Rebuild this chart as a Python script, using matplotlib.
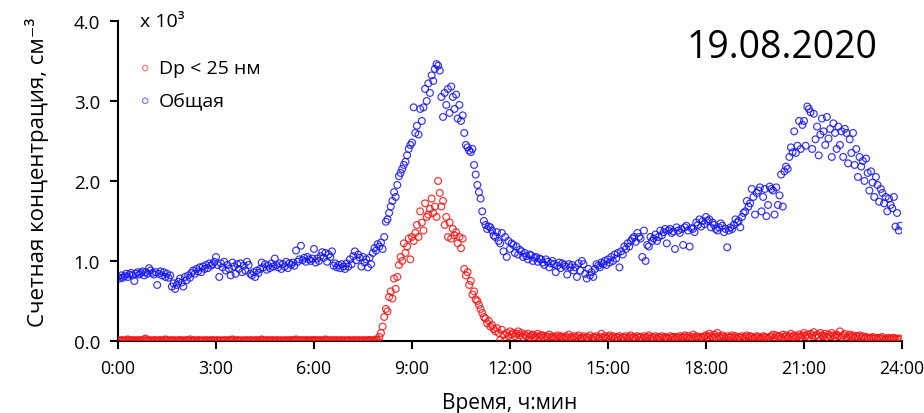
import matplotlib
matplotlib.use("Agg")
import matplotlib.pyplot as plt
import numpy as np

plt.rcParams['font.family'] = ['Open Sans', 'DejaVu Sans']

# 3-minute samples, one row per hour (0:00 ... 23:57), values in 10^3 cm^-3
total = [
    0.80, 0.78, 0.82, 0.79, 0.81, 0.84, 0.80, 0.83, 0.85, 0.82, 0.75, 0.84, 0.86, 0.83, 0.85, 0.87, 0.82, 0.86, 0.84, 0.91,
    0.88, 0.85, 0.83, 0.86, 0.70, 0.84, 0.87, 0.82, 0.86, 0.80, 0.84, 0.79, 0.82, 0.68, 0.72, 0.65, 0.70, 0.74, 0.78, 0.73,
    0.68, 0.80, 0.76, 0.82, 0.79, 0.85, 0.88, 0.84, 0.90, 0.87, 0.92, 0.86, 0.93, 0.90, 0.95, 0.91, 0.97, 0.94, 0.96, 0.99,
    1.05, 0.95, 0.80, 0.97, 0.92, 0.99, 0.88, 0.95, 0.90, 0.82, 0.98, 0.93, 0.84, 0.96, 0.90, 0.97, 0.86, 0.94, 0.88, 0.99,
    0.95, 0.84, 0.82, 0.86, 0.80, 0.88, 0.85, 0.90, 0.98, 0.92, 0.96, 0.89, 0.94, 0.91, 0.97, 0.93, 1.03, 0.95, 0.92, 0.97,
    0.90, 0.96, 0.93, 0.99, 0.91, 0.97, 0.95, 0.98, 0.94, 1.13, 0.99, 1.02, 1.19, 1.01, 1.04, 0.99, 1.05, 1.02, 1.00, 1.03,
    1.15, 0.98, 1.03, 1.00, 1.06, 1.11, 1.04, 1.10, 0.99, 1.08, 1.05, 1.12, 0.94, 0.97, 0.92, 0.95, 0.91, 0.96, 0.93, 0.90,
    0.97, 0.93, 1.02, 0.96, 1.06, 1.12, 1.01, 1.08, 1.04, 0.93, 1.05, 0.98, 1.02, 0.92, 1.04, 0.96, 1.10, 1.16, 1.13, 1.21,
    1.18, 1.23, 1.15, 1.30, 1.49, 1.52, 1.60, 1.68, 1.75, 1.86, 1.80, 1.95, 2.06, 2.10, 2.15, 2.20, 2.24, 2.32, 2.40, 2.45,
    2.48, 2.92, 2.60, 2.69, 2.58, 2.90, 2.75, 2.92, 3.15, 3.00, 3.22, 3.10, 3.32, 3.25, 3.40, 3.46, 3.44, 3.38, 3.05, 2.80,
    3.10, 2.95, 3.15, 2.85, 3.18, 3.05, 2.90, 3.08, 2.78, 2.95, 2.75, 2.82, 2.60, 2.45, 2.42, 2.38, 2.36, 2.40, 2.20, 2.08,
    1.95, 1.86, 1.78, 1.62, 1.50, 1.45, 1.40, 1.43, 1.42, 1.38, 1.32, 1.30, 1.36, 1.25, 1.22, 1.35, 1.12, 1.30, 1.05, 1.25,
    1.15, 1.22, 1.20, 1.10, 1.18, 1.08, 1.14, 1.12, 1.05, 1.10, 1.06, 1.02, 1.08, 1.07, 1.00, 1.04, 1.05, 0.99, 1.03, 1.02,
    0.98, 0.95, 1.02, 0.99, 0.92, 0.97, 1.00, 0.96, 0.86, 0.94, 0.98, 0.91, 0.97, 0.95, 0.93, 0.83, 0.96, 0.92, 0.95, 0.88,
    0.92, 0.80, 0.97, 0.88, 1.00, 0.96, 0.84, 0.78, 0.90, 0.82, 0.86, 0.80, 0.90, 0.96, 0.94, 0.92, 0.98, 0.96, 1.00, 0.95,
    1.02, 0.98, 1.05, 1.00, 1.08, 1.03, 1.10, 0.92, 1.12, 1.08, 1.18, 1.15, 1.22, 1.18, 1.25, 1.28, 1.30, 1.24, 1.35, 1.30,
    1.28, 1.05, 1.38, 1.00, 1.20, 1.18, 1.30, 1.25, 1.28, 1.33, 1.25, 1.30, 1.38, 1.32, 1.36, 1.40, 1.22, 1.38, 1.40, 1.35,
    1.37, 1.15, 1.42, 1.38, 1.35, 1.40, 1.20, 1.42, 1.44, 1.38, 1.18, 1.41, 1.40, 1.36, 1.48, 1.45, 1.52, 1.43, 1.50, 1.46,
    1.55, 1.50, 1.52, 1.42, 1.48, 1.45, 1.40, 1.38, 1.42, 1.47, 1.44, 1.36, 1.40, 1.17, 1.38, 1.42, 1.40, 1.45, 1.52, 1.48,
    1.50, 1.42, 1.55, 1.60, 1.62, 1.75, 1.68, 1.72, 1.90, 1.80, 1.58, 1.85, 1.88, 1.92, 1.62, 1.80, 1.90, 1.56, 1.70, 1.93,
    1.90, 1.88, 1.58, 1.92, 1.70, 1.82, 2.08, 1.68, 2.12, 2.18, 2.15, 2.30, 2.42, 2.36, 2.62, 2.35, 2.44, 2.75, 2.40, 2.70,
    2.75, 2.44, 2.93, 2.90, 2.86, 2.40, 2.84, 2.52, 2.68, 2.32, 2.58, 2.78, 2.62, 2.45, 2.80, 2.53, 2.65, 2.30, 2.72, 2.60,
    2.40, 2.68, 2.45, 2.62, 2.30, 2.65, 2.60, 2.22, 2.52, 2.35, 2.60, 2.20, 2.40, 2.05, 2.30, 2.18, 2.25, 2.00, 2.28, 2.10,
    1.88, 2.12, 1.98, 1.80, 2.05, 1.95, 1.74, 1.90, 1.85, 1.72, 1.80, 1.62, 1.78, 1.70, 1.66, 1.80, 1.43, 1.60, 1.38, 1.44,
]

small = [
    0.01, 0.00, 0.01, 0.01, 0.00, 0.01, 0.02, 0.01, 0.00, 0.01, 0.01, 0.00, 0.01, 0.01, 0.00, 0.01, 0.02, 0.03, 0.01, 0.00,
    0.01, 0.00, 0.01, 0.01, 0.00, 0.01, 0.01, 0.00, 0.01, 0.02, 0.01, 0.00, 0.01, 0.01, 0.00, 0.01, 0.00, 0.01, 0.01, 0.00,
    0.01, 0.00, 0.01, 0.01, 0.02, 0.00, 0.01, 0.01, 0.00, 0.01, 0.01, 0.00, 0.01, 0.00, 0.01, 0.01, 0.00, 0.01, 0.01, 0.00,
    0.01, 0.01, 0.00, 0.01, 0.00, 0.01, 0.01, 0.00, 0.01, 0.01, 0.02, 0.01, 0.00, 0.01, 0.01, 0.00, 0.01, 0.00, 0.01, 0.01,
    0.00, 0.01, 0.01, 0.00, 0.01, 0.01, 0.00, 0.01, 0.02, 0.01, 0.00, 0.01, 0.01, 0.00, 0.01, 0.01, 0.00, 0.01, 0.01, 0.00,
    0.01, 0.00, 0.01, 0.01, 0.00, 0.01, 0.01, 0.00, 0.01, 0.02, 0.01, 0.00, 0.01, 0.01, 0.00, 0.01, 0.01, 0.00, 0.01, 0.01,
    0.01, 0.01, 0.00, 0.01, 0.01, 0.00, 0.01, 0.02, 0.01, 0.00, 0.01, 0.01, 0.00, 0.01, 0.01, 0.00, 0.01, 0.01, 0.00, 0.01,
    0.00, 0.01, 0.01, 0.00, 0.01, 0.01, 0.00, 0.01, 0.01, 0.00, 0.01, 0.01, 0.00, 0.01, 0.01, 0.01, 0.00, 0.01, 0.02, 0.01,
    0.05, 0.10, 0.18, 0.30, 0.40, 0.37, 0.55, 0.62, 0.53, 0.78, 0.65, 0.80, 0.95, 1.05, 1.00, 1.22, 1.10, 1.18, 1.28, 1.02,
    1.30, 1.25, 1.35, 1.45, 1.30, 1.62, 1.48, 1.38, 1.72, 1.55, 1.58, 1.65, 1.78, 1.60, 1.68, 1.55, 2.00, 1.85, 1.68, 1.75,
    1.45, 1.55, 1.30, 1.48, 1.28, 1.40, 1.32, 1.36, 1.22, 1.30, 1.16, 1.28, 0.90, 0.82, 0.86, 0.70, 0.75, 0.58, 0.62, 0.52,
    0.50, 0.45, 0.40, 0.35, 0.30, 0.28, 0.22, 0.25, 0.18, 0.20, 0.15, 0.12, 0.16, 0.10, 0.01, 0.14, 0.08, 0.01, 0.10, 0.06,
    0.12, 0.08, 0.10, 0.06, 0.09, 0.12, 0.07, 0.10, 0.05, 0.08, 0.06, 0.09, 0.05, 0.07, 0.08, 0.04, 0.06, 0.09, 0.05, 0.07,
    0.07, 0.04, 0.06, 0.05, 0.08, 0.04, 0.06, 0.03, 0.05, 0.07, 0.04, 0.06, 0.05, 0.03, 0.06, 0.04, 0.08, 0.05, 0.03, 0.06,
    0.04, 0.05, 0.07, 0.03, 0.04, 0.06, 0.03, 0.05, 0.04, 0.07, 0.03, 0.05, 0.04, 0.06, 0.03, 0.05, 0.09, 0.04, 0.06, 0.03,
    0.05, 0.07, 0.04, 0.06, 0.03, 0.05, 0.04, 0.06, 0.03, 0.05, 0.04, 0.06, 0.03, 0.05, 0.07, 0.04, 0.05, 0.03, 0.06, 0.04,
    0.05, 0.03, 0.06, 0.04, 0.05, 0.07, 0.03, 0.05, 0.04, 0.06, 0.03, 0.05, 0.04, 0.06, 0.03, 0.05, 0.04, 0.03, 0.06, 0.04,
    0.05, 0.03, 0.05, 0.04, 0.06, 0.04, 0.05, 0.07, 0.04, 0.06, 0.03, 0.05, 0.08, 0.04, 0.06, 0.05, 0.03, 0.05, 0.04, 0.06,
    0.07, 0.05, 0.09, 0.06, 0.04, 0.08, 0.05, 0.10, 0.06, 0.04, 0.07, 0.05, 0.03, 0.06, 0.04, 0.05, 0.07, 0.04, 0.06, 0.03,
    0.05, 0.04, 0.06, 0.03, 0.05, 0.07, 0.04, 0.06, 0.05, 0.03, 0.04, 0.06, 0.05, 0.03, 0.04, 0.06, 0.05, 0.04, 0.03, 0.05,
    0.06, 0.08, 0.04, 0.07, 0.05, 0.06, 0.04, 0.08, 0.05, 0.07, 0.04, 0.06, 0.09, 0.05, 0.07, 0.04, 0.06, 0.08, 0.05, 0.07,
    0.10, 0.06, 0.08, 0.05, 0.09, 0.07, 0.11, 0.06, 0.08, 0.05, 0.10, 0.07, 0.06, 0.09, 0.05, 0.08, 0.06, 0.10, 0.07, 0.05,
    0.08, 0.06, 0.12, 0.05, 0.07, 0.09, 0.04, 0.06, 0.08, 0.05, 0.07, 0.04, 0.06, 0.05, 0.07, 0.04, 0.06, 0.03, 0.05, 0.04,
    0.03, 0.04, 0.05, 0.03, 0.04, 0.02, 0.04, 0.03, 0.05, 0.03, 0.02, 0.03, 0.04, 0.02, 0.03, 0.04, 0.02, 0.03, 0.02, 0.03,
]

hours = np.arange(len(total)) * 3 / 60.0
xticks = [0, 3, 6, 9, 12, 15, 18, 21, 24]
xtick_labels = ['0:00', '3:00', '6:00', '9:00', '12:00', '15:00',
                '18:00', '21:00', '24:00']
yticks = [0.0, 1.0, 2.0, 3.0, 4.0]

fig = plt.figure(figsize=(9.24, 4.14), dpi=100)
ax = fig.add_axes([0.1277, 0.174, 0.8485, 0.773])

ax.scatter(hours, small, s=24, facecolors='none', edgecolors='#ff0a0a',
           linewidths=0.85, alpha=0.85, label='Dp < 25 нм', zorder=3)
ax.scatter(hours, total, s=24, facecolors='none', edgecolors='#1010ff',
           linewidths=0.85, alpha=0.85, label='Общая', zorder=2)

ax.set_xlim(0, 24)
ax.set_ylim(0, 4.0)
ax.set_xticks(xticks)
ax.set_xticklabels(xtick_labels)
ax.set_yticks(yticks)
ax.set_yticklabels([f'{v:.1f}' for v in yticks])
for s in ['top', 'right']:
    ax.spines[s].set_visible(False)
for s in ['left', 'bottom']:
    ax.spines[s].set_linewidth(1.5)
ax.tick_params(axis='both', direction='out', length=6, width=1.5, pad=7)
ax.tick_params(axis='x', labelsize=12.8)
ax.tick_params(axis='y', labelsize=13.5)

ax.set_xlabel('Время, ч:мин', fontsize=15)
ax.xaxis.set_label_coords(0.5, -0.16)
ax.set_ylabel('Счетная концентрация, см⁻³', fontsize=16)
ax.yaxis.set_label_coords(-0.088, 0.53)

ax.text(0.028, 0.984, 'x 10³', transform=ax.transAxes, fontsize=14,
        va='baseline', ha='left')
ax.text(0.847, 0.92, '19.08.2020', transform=ax.transAxes, fontsize=27,
        va='center', ha='center')

leg = ax.legend(loc='upper left', bbox_to_anchor=(0.0, 0.935),
                frameon=False, fontsize=14, handletextpad=0.2,
                handlelength=1.0, markerscale=0.8, labelspacing=0.75)
for h in leg.legend_handles:
    h.set_alpha(0.55)

fig.savefig('out.png', dpi=100)
